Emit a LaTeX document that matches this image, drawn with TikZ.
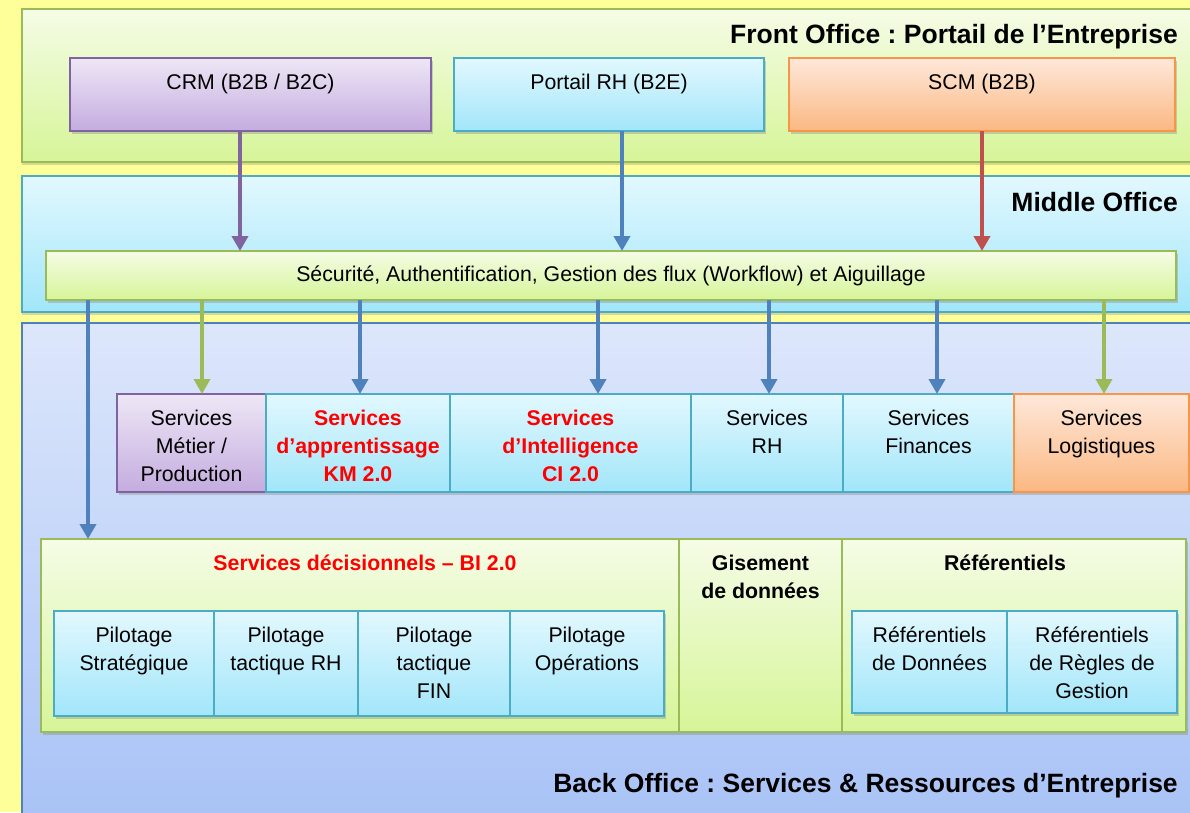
\documentclass[tikz,border=0pt]{standalone}
\usepackage{fontspec}
\setmainfont{Liberation Sans}
\usepackage{tikz}
\usetikzlibrary{arrows.meta,positioning,shadows}
\definecolor{PageYellow}{HTML}{FFFF99}
\definecolor{LimeTop}{HTML}{F5FCE6}
\definecolor{LimeBot}{HTML}{D6F598}
\definecolor{LimeLine}{HTML}{9BBB59}
\definecolor{AquaTop}{HTML}{E2F8FE}
\definecolor{AquaBot}{HTML}{A2E6FA}
\definecolor{AquaLine}{HTML}{4BACC6}
\definecolor{SkyTop}{HTML}{DDE7FB}
\definecolor{SkyBot}{HTML}{A6C1F6}
\definecolor{SkyLine}{HTML}{4F81BD}
\definecolor{LilacTop}{HTML}{EEE7F6}
\definecolor{LilacBot}{HTML}{C4ACDF}
\definecolor{LilacLine}{HTML}{8064A2}
\definecolor{PeachTop}{HTML}{FEE8DA}
\definecolor{PeachBot}{HTML}{FBB882}
\definecolor{PeachLine}{HTML}{F79646}
\definecolor{BrickRed}{HTML}{C0504D}
\frenchspacing

\begin{document}
\begin{tikzpicture}[x=1pt, y=-1pt, every node/.style={font=\fontsize{21.3}{28}\selectfont}]
\tikzset{layer/.style={draw, line width=1.6pt, inner sep=0pt, outer sep=0pt, anchor=north west, drop shadow={shadow xshift=0pt, shadow yshift=-3pt, opacity=0.3}}}
\tikzset{box/.style={draw, line width=1.4pt, inner sep=0pt, outer sep=0pt, anchor=north west, drop shadow={shadow xshift=1.5pt, shadow yshift=-2.5pt, opacity=0.35}}}
\tikzset{lime/.style={top color=LimeTop, bottom color=LimeBot, draw=LimeLine}}
\tikzset{aqua/.style={top color=AquaTop, bottom color=AquaBot, draw=AquaLine}}
\tikzset{sky/.style={top color=SkyTop, bottom color=SkyBot, draw=SkyLine}}
\tikzset{lilac/.style={top color=LilacTop, bottom color=LilacBot, draw=LilacLine}}
\tikzset{peach/.style={top color=PeachTop, bottom color=PeachBot, draw=PeachLine}}
\tikzset{intext/.style={align=center, inner sep=0pt, anchor=north, yshift=-15.5pt}}
\tikzset{hot/.style={intext, font=\fontsize{21.3}{28}\selectfont\bfseries, text=red}}
\tikzset{strong/.style={intext, font=\fontsize{21.3}{28}\selectfont\bfseries}}
\tikzset{title/.style={inner sep=0pt, anchor=base east, font=\fontsize{26.5}{32}\selectfont\bfseries}}
\tikzset{flow/.style={-{Triangle[length=15pt,width=16pt]}, line width=4.5pt}}
\useasboundingbox (0,0) rectangle (1190,812);
\fill[PageYellow] (0,0) rectangle (1190,812);
\clip (0,0) rectangle (1190,812);

% the three offices
\node[layer, lime, minimum width=1190pt, minimum height=153pt] (front) at (22,9) {};
\node[layer, aqua, minimum width=1190pt, minimum height=136pt] (middle) at (22,176) {};
\node[layer, sky, minimum width=1190pt, minimum height=520pt] (back) at (22,323) {};
\node[title] (fronttitle) at (1178,43.5) {Front Office : Portail de l’Entreprise};
\node[title] (middletitle) at (1178,211) {Middle Office};
\node[title] (backtitle) at (1178,792) {Back Office : Services \& Ressources d’Entreprise};

% front office portals
\node[box, lilac, minimum width=361pt, minimum height=73pt] (crm) at (70,58) {};
\node[box, aqua, minimum width=310pt, minimum height=73pt, right=23pt of crm] (portail) {};
\node[box, peach, minimum width=386pt, minimum height=73pt, right=25pt of portail] (scm) {};

% middle office bar
\node[box, lime, minimum width=1130pt, minimum height=49pt] (bar) at (46,251) {Sécurité, Authentification, Gestion des flux (Workflow) et Aiguillage};

% back office services
\node[box, lilac, minimum width=149pt, minimum height=98pt] (metier) at (117,394) {};
\node[box, aqua, minimum width=184pt, minimum height=98pt, right=0pt of metier] (km) {};
\node[box, aqua, minimum width=241pt, minimum height=98pt, right=0pt of km] (ci) {};
\node[box, aqua, minimum width=152pt, minimum height=98pt, right=0pt of ci] (srh) {};
\node[box, aqua, minimum width=171pt, minimum height=98pt, right=0pt of srh] (fin) {};
\node[box, peach, minimum width=175pt, minimum height=98pt, right=0pt of fin] (logi) {};

% decisionnel, gisement, referentiels
\node[box, lime, minimum width=638pt, minimum height=193pt] (bi) at (41,539) {};
\node[box, lime, minimum width=163pt, minimum height=193pt, right=0pt of bi] (gisement) {};
\node[box, lime, minimum width=344pt, minimum height=193pt, right=0pt of gisement] (refs) {};
\node[box, aqua, minimum width=160pt, minimum height=105pt] (pilstrat) at (54,611) {};
\node[box, aqua, minimum width=144pt, minimum height=105pt, right=0pt of pilstrat] (pilrh) {};
\node[box, aqua, minimum width=152pt, minimum height=105pt, right=0pt of pilrh] (pilfin) {};
\node[box, aqua, minimum width=154pt, minimum height=105pt, right=0pt of pilfin] (pilops) {};
\node[box, aqua, minimum width=155pt, minimum height=102pt] (refdon) at (852,611) {};
\node[box, aqua, minimum width=170pt, minimum height=102pt, right=0pt of refdon] (refgest) {};

% texts
\node[intext] (crmtext) at (crm.north) {CRM (B2B / B2C)};
\node[intext] (portailtext) at (portail.north) {Portail RH (B2E)};
\node[intext] (scmtext) at (scm.north) {SCM (B2B)};
\node[intext] (metiertext) at (metier.north) {Services\\Métier /\\Production};
\node[hot] (kmtext) at (km.north) {Services\\d’apprentissage\\KM 2.0};
\node[hot] (citext) at (ci.north) {Services\\d’Intelligence\\CI 2.0};
\node[intext] (srhtext) at (srh.north) {Services\\RH};
\node[intext] (fintext) at (fin.north) {Services\\Finances};
\node[intext] (logitext) at (logi.north) {Services\\Logistiques};
\node[hot, xshift=5pt] (bititle) at (bi.north) {Services décisionnels – BI 2.0};
\node[strong] (gistext) at (gisement.north) {Gisement\\de données};
\node[strong, xshift=-9pt] (refstitle) at (refs.north) {Référentiels};
\node[intext] (pilstrattext) at (pilstrat.north) {Pilotage\\Stratégique};
\node[intext] (pilrhtext) at (pilrh.north) {Pilotage\\tactique RH};
\node[intext] (pilfintext) at (pilfin.north) {Pilotage\\tactique\\FIN};
\node[intext] (pilopstext) at (pilops.north) {Pilotage\\Opérations};
\node[intext] (refdontext) at (refdon.north) {Référentiels\\de Données};
\node[intext] (refgesttext) at (refgest.north) {Référentiels\\de Règles de\\Gestion};

% flows
\draw[flow, LilacLine] (240,0 |- crm.south) -- (240,0 |- bar.north);
\draw[flow, SkyLine] (622,0 |- portail.south) -- (622,0 |- bar.north);
\draw[flow, BrickRed] (982,0 |- scm.south) -- (982,0 |- bar.north);
\draw[flow, SkyLine] (88,0 |- bar.south) -- (88,0 |- bi.north);
\draw[flow, LimeLine] (202,0 |- bar.south) -- (202,0 |- metier.north);
\draw[flow, SkyLine] (360,0 |- bar.south) -- (360,0 |- km.north);
\draw[flow, SkyLine] (598,0 |- bar.south) -- (598,0 |- ci.north);
\draw[flow, SkyLine] (769,0 |- bar.south) -- (769,0 |- srh.north);
\draw[flow, SkyLine] (937,0 |- bar.south) -- (937,0 |- fin.north);
\draw[flow, LimeLine] (1104,0 |- bar.south) -- (1104,0 |- logi.north);
\end{tikzpicture}
\end{document}
